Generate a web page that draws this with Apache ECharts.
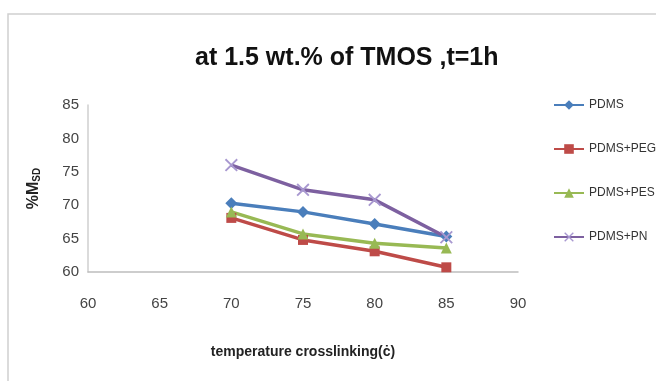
<!DOCTYPE html>
<html>
<head>
<meta charset="utf-8">
<script src="https://cdn.jsdelivr.net/npm/echarts@6/dist/echarts.min.js"></script>
<style>
html, body { margin: 0; padding: 0; background: #fff; }
#chart { width: 656px; height: 381px; }
</style>
</head>
<body>
<div id="chart"></div>
<script>
var temps = [70, 75, 80, 85];
var pdms = [70.3, 69.0, 67.2, 65.3];
var pdmsPeg = [68.1, 64.8, 63.1, 60.7];
var pdmsPes = [69.0, 65.7, 64.3, 63.6];
var pdmsPn = [76.0, 72.3, 70.8, 65.2];

function pairs(vals) {
    return temps.map(function (t, i) { return [t, vals[i]]; });
}

var xMark = 'path://M0,1L1,0L5,4L9,0L10,1L6,5L10,9L9,10L5,6L1,10L0,9L4,5Z';

var option = {
    backgroundColor: '#fff',
    animation: false,
    graphic: [{
        type: 'rect',
        shape: { x: 8, y: 14, width: 700, height: 400 },
        style: { fill: 'none', stroke: '#d0d0d0', lineWidth: 1.5 },
        silent: true
    }],
    title: {
        text: 'at 1.5 wt.% of TMOS ,t=1h',
        left: 190,
        top: 41,
        textStyle: { fontFamily: 'Liberation Sans', fontSize: 25, fontWeight: 'bold', color: '#111' }
    },
    legend: {
        orient: 'vertical',
        left: 548,
        top: 94,
        itemWidth: 30,
        itemHeight: 12,
        itemGap: 32,
        textStyle: { fontFamily: 'Liberation Sans', fontSize: 12, color: '#333' },
        data: ['PDMS', 'PDMS+PEG', 'PDMS+PES', 'PDMS+PN']
    },
    grid: { left: 88, right: 138, top: 105, bottom: 109 },
    xAxis: {
        type: 'value',
        min: 60, max: 90, interval: 5,
        name: 'temperature crosslinking(ċ)',
        nameLocation: 'middle',
        nameGap: 73,
        nameTextStyle: { fontFamily: 'Liberation Sans', fontSize: 14, fontWeight: 'bold', color: '#222' },
        axisLine: { lineStyle: { color: '#bdbdbd', width: 1.5 } },
        axisTick: { show: false },
        splitLine: { show: false },
        axisLabel: { fontFamily: 'Liberation Sans', fontSize: 15, color: '#444', margin: 24 }
    },
    yAxis: {
        type: 'value',
        min: 60, max: 85, interval: 5,
        name: '{m|%M}{s|SD}',
        nameLocation: 'middle',
        nameRotate: 90,
        nameGap: 46,
        nameTextStyle: {
            rich: {
                m: { fontFamily: 'Liberation Sans', fontSize: 16, fontWeight: 'bold', color: '#222' },
                s: { fontFamily: 'Liberation Sans', fontSize: 10, fontWeight: 'bold', color: '#222', verticalAlign: 'bottom', padding: [6, 0, 0, 0] }
            }
        },
        axisLine: { show: true, lineStyle: { color: '#cfcfcf', width: 1.5 } },
        axisTick: { show: false },
        splitLine: { show: false },
        axisLabel: { fontFamily: 'Liberation Sans', fontSize: 15, color: '#444', margin: 9 }
    },
    series: [
        {
            name: 'PDMS', type: 'line', data: pairs(pdms),
            symbol: 'diamond', symbolSize: 12,
            lineStyle: { width: 3.5, color: '#4a7ebb' },
            itemStyle: { color: '#4a7ebb' }
        },
        {
            name: 'PDMS+PEG', type: 'line', data: pairs(pdmsPeg),
            symbol: 'rect', symbolSize: 10,
            lineStyle: { width: 3.5, color: '#be4b48' },
            itemStyle: { color: '#be4b48' }
        },
        {
            name: 'PDMS+PES', type: 'line', data: pairs(pdmsPes),
            symbol: 'triangle', symbolSize: 11,
            lineStyle: { width: 3.5, color: '#98b954' },
            itemStyle: { color: '#98b954' }
        },
        {
            name: 'PDMS+PN', type: 'line', data: pairs(pdmsPn),
            symbol: xMark, symbolSize: 13,
            lineStyle: { width: 3.5, color: '#7d60a0' },
            itemStyle: { color: '#a898d0' }
        }
    ]
};

var chart = echarts.init(document.getElementById('chart'));
chart.setOption(option);
</script>
</body>
</html>
